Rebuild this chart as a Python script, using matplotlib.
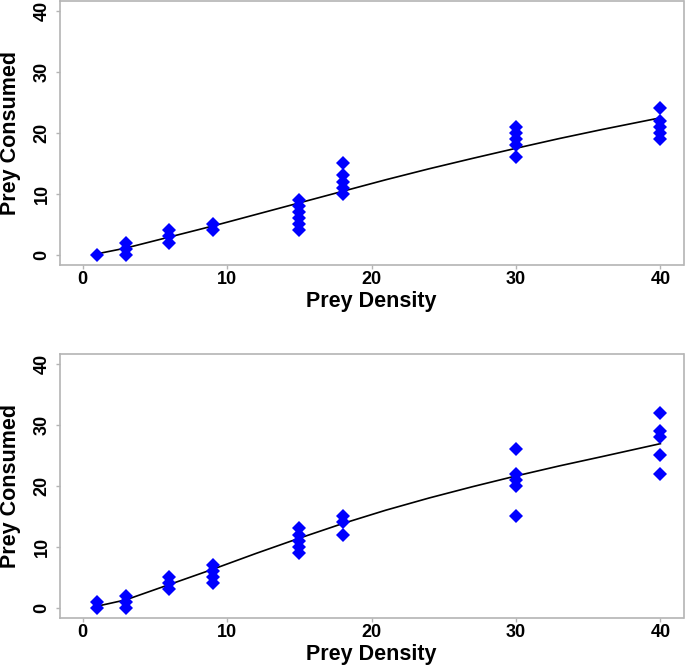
import matplotlib
matplotlib.use("Agg")
import matplotlib.pyplot as plt

# ---- data ----
top_density = [1, 3, 3, 3, 6, 6, 6, 9, 9,
               15, 15, 15, 15, 15, 15, 18, 18, 18, 18, 18,
               30, 30, 30, 30, 30, 40, 40, 40, 40, 40]
top_consumed = [0, 0, 1, 2, 2, 3, 4, 4, 5,
                4, 5, 6, 7, 8, 9, 10, 11, 12, 13, 15,
                16, 18, 19, 20, 21, 19, 20, 21, 22, 24]

bot_density = [1, 1, 3, 3, 3, 6, 6, 6, 9, 9, 9, 9,
               15, 15, 15, 15, 15, 18, 18, 18,
               30, 30, 30, 30, 30, 40, 40, 40, 40, 40]
bot_consumed = [0, 1, 0, 1, 2, 3, 4, 5, 4, 5, 6, 7,
                9, 10, 11, 12, 13, 12, 14, 15,
                15, 20, 21, 22, 26, 22, 25, 28, 29, 32]

curve_x = [1, 3, 6, 9, 12, 15, 18, 21, 24, 27, 30, 33, 36, 40]
top_curve_y = [0.15, 1.1, 2.9, 4.7, 6.6, 8.5, 10.4, 12.3, 14.1, 15.8, 17.45, 19.05, 20.55, 22.45]
bot_curve_y = [0.25, 1.3, 3.8, 6.3, 8.9, 11.4, 13.8, 16.0, 18.0, 19.85, 21.6, 23.25, 24.8, 26.9]

x_ticks = [0, 10, 20, 30, 40]
y_ticks = [0, 10, 20, 30, 40]
x_label = "Prey Density"
y_label = "Prey Consumed"

plt.rcParams['font.family'] = ['Liberation Sans', 'DejaVu Sans']
plt.rcParams['font.weight'] = 'bold'

W, H = 685, 668
fig = plt.figure(figsize=(W / 100, H / 100), dpi=100)

def make_ax(top_px, bot_px):
    left_px, right_px = 59.5, 683.5
    return fig.add_axes([left_px / W, 1 - bot_px / H,
                         (right_px - left_px) / W, (bot_px - top_px) / H])

panels = [
    (make_ax(1, 264.5), top_density, top_consumed, top_curve_y),
    (make_ax(354, 617.5), bot_density, bot_consumed, bot_curve_y),
]

grey = '#b4b4b4'
for ax, dx, dy, cy in panels:
    ax.plot(curve_x, cy, color='black', lw=1.2, zorder=2)
    ax.plot(dx, dy, linestyle='none', marker='D', color='#0000ff',
            markersize=7, markeredgewidth=0, zorder=3)
    ax.set_xlim(-1.6, 41.6)
    ax.set_ylim(-1.6, 41.6)
    ax.set_xticks(x_ticks)
    ax.set_yticks(y_ticks)
    ax.set_xticklabels([str(t) for t in x_ticks], fontsize=13, fontweight='bold')
    ax.set_yticklabels([str(t) for t in y_ticks], fontsize=13, fontweight='bold',
                       rotation=90, va='center')
    ax.tick_params(axis='both', direction='out', length=3, width=1,
                   color=grey, pad=2)
    ax.tick_params(axis='y', pad=3.5)
    for s in ax.spines.values():
        s.set_color(grey)
        s.set_linewidth(1.2)
    ax.set_xlabel(x_label, fontsize=15.5, fontweight='bold', labelpad=2)
    ax.set_ylabel(y_label, fontsize=15.5, fontweight='bold', labelpad=9)

fig.savefig("out.png", dpi=100)
